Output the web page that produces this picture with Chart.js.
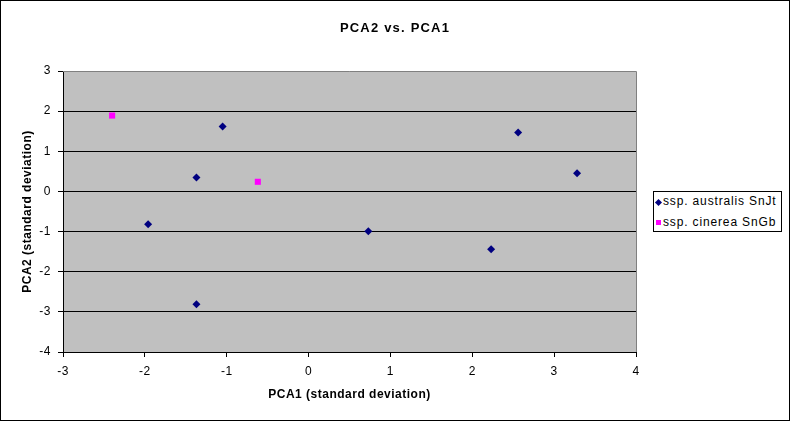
<!DOCTYPE html>
<html>
<head>
<meta charset="utf-8">
<script src="https://cdn.jsdelivr.net/npm/chart.js@4/dist/chart.umd.min.js"></script>
<style>
  body { margin: 0; background: #fff; }
  #wrap { position: relative; width: 791px; height: 422px; }
  #legend {
    position: absolute; left: 653px; top: 191px; width: 129px; height: 41px;
    box-sizing: border-box; border: 1px solid #000; background: #fff;
    font: 12px Arial, "Liberation Sans", sans-serif; letter-spacing: 0.85px; color: #000;
  }
  #legend .row { position: absolute; left: 9px; line-height: 14px; white-space: nowrap; }
  #legend .mk { position: absolute; width: 5px; height: 5px; }
</style>
</head>
<body>
<div id="wrap">
  <canvas id="myChart" width="791" height="422"></canvas>
  <div id="legend"></div>
</div>
<script>
var australisX = [-1.96, -1.37, -1.37, -1.05, 0.73, 2.23, 2.56, 3.28];
var australisY = [-0.82, 0.35, -2.81, 1.62, -0.99, -1.44, 1.47, 0.45];
var cinereaX = [-2.40, -0.62];
var cinereaY = [1.89, 0.24];
var seriesNames = ["ssp. australis SnJt", "ssp. cinerea SnGb"];
var chartTitle = "PCA2 vs. PCA1";
var xTitle = "PCA1 (standard deviation)";
var yTitle = "PCA2 (standard deviation)";
var xMin = -3, xMax = 4, yMin = -4, yMax = 3;

var font = "Arial, 'Liberation Sans', sans-serif";

function pairs(xs, ys) {
  var out = [];
  for (var i = 0; i < xs.length; i++) out.push({ x: xs[i], y: ys[i] });
  return out;
}

// gray plot area, gray top/right border, outer frame, title
var excelLook = {
  id: "excelLook",
  beforeDraw: function (chart) {
    var ctx = chart.ctx, a = chart.chartArea;
    ctx.letterSpacing = "0.5px";
    ctx.save();
    ctx.fillStyle = "#c0c0c0";
    ctx.fillRect(a.left, a.top, a.right - a.left, a.bottom - a.top);
    ctx.restore();
  },
  afterDraw: function (chart) {
    var ctx = chart.ctx, a = chart.chartArea;
    ctx.save();
    ctx.strokeStyle = "#808080";
    ctx.lineWidth = 1;
    ctx.beginPath();
    ctx.moveTo(a.left, Math.round(a.top) + 0.5);
    ctx.lineTo(Math.round(a.right) + 0.5, Math.round(a.top) + 0.5);
    ctx.lineTo(Math.round(a.right) + 0.5, a.bottom);
    ctx.stroke();
    ctx.strokeStyle = "#000";
    ctx.strokeRect(0.5, 0.5, 789, 420);
    ctx.fillStyle = "#000";
    ctx.font = "bold 13px " + font;
    ctx.letterSpacing = "1.2px";
    ctx.textAlign = "center";
    ctx.textBaseline = "middle";
    ctx.fillText(chartTitle, 395, 28);
    ctx.restore();
  }
};

new Chart(document.getElementById("myChart"), {
  type: "scatter",
  data: {
    datasets: [
      {
        label: seriesNames[0],
        data: pairs(australisX, australisY),
        pointStyle: "rectRot",
        pointRadius: 4,
        borderWidth: 0,
        backgroundColor: "#000080",
        borderColor: "#000080"
      },
      {
        label: seriesNames[1],
        data: pairs(cinereaX, cinereaY),
        pointStyle: "rect",
        pointRadius: 4.3,
        borderWidth: 0,
        backgroundColor: "#ff00ff",
        borderColor: "#ff00ff"
      }
    ]
  },
  options: {
    responsive: false,
    animation: false,
    devicePixelRatio: 1,
    layout: { padding: { top: 71, right: 155, bottom: 0, left: 0 } },
    plugins: {
      legend: { display: false },
      title: { display: false },
      tooltip: { enabled: false }
    },
    scales: {
      x: {
        type: "linear",
        min: xMin,
        max: xMax,
        ticks: { stepSize: 1, color: "#000", padding: 7, font: { family: font, size: 12 } },
        grid: { drawOnChartArea: false, drawTicks: true, tickLength: 5, color: "#000", tickColor: "#000" },
        border: { color: "#000", width: 1 },
        title: {
          display: true, text: xTitle, color: "#000",
          font: { family: font, size: 12, weight: "bold" },
          padding: { top: 0, bottom: 20 }
        },
        afterFit: function (s) { s.height = 70; s.paddingLeft = 0; s.paddingRight = 0; }
      },
      y: {
        type: "linear",
        min: yMin,
        max: yMax,
        ticks: { stepSize: 1, color: "#000", padding: 7, font: { family: font, size: 12 } },
        grid: {
          drawTicks: true, tickLength: 5, tickColor: "#000",
          color: function (c) { return c.tick && c.tick.value === yMax ? "rgba(0,0,0,0)" : "#000"; }
        },
        border: { color: "#000", width: 1 },
        title: {
          display: true, text: yTitle, color: "#000",
          font: { family: font, size: 12, weight: "bold" },
          padding: { top: 20, bottom: 0 }
        },
        afterFit: function (s) { s.width = 63; s.paddingTop = 0; s.paddingBottom = 0; }
      }
    }
  },
  plugins: [excelLook]
});

// html legend
var lg = document.getElementById("legend");
var rows = [
  { name: seriesNames[0], top: 2, mk: "left:-7px;top:6px;background:#000080;transform:rotate(45deg);" },
  { name: seriesNames[1], top: 23, mk: "left:-7px;top:5px;background:#ff00ff;" }
];
rows.forEach(function (r) {
  var d = document.createElement("div");
  d.className = "row";
  d.style.top = r.top + "px";
  d.innerHTML = '<span class="mk" style="' + r.mk + '"></span>' + r.name;
  lg.appendChild(d);
});
</script>
</body>
</html>
